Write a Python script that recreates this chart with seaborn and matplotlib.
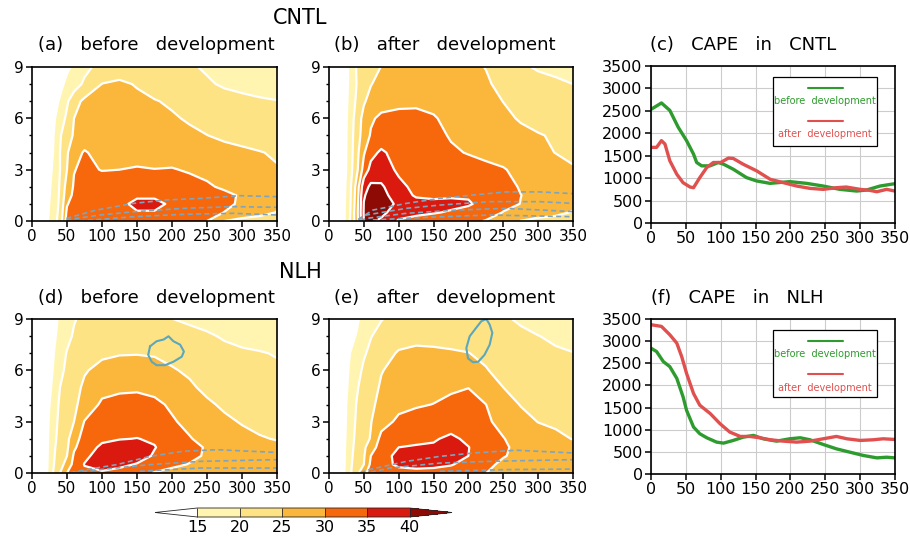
import numpy as np
import pandas as pd
import matplotlib
matplotlib.use("Agg")
import matplotlib.pyplot as plt
import seaborn as sns
from matplotlib.colors import ListedColormap, BoundaryNorm
from matplotlib.cm import ScalarMappable
from matplotlib.patches import Rectangle
from matplotlib.ticker import MultipleLocator

# ---------------- data ----------------
X_KM = [0, 20, 30, 40, 50, 60, 75, 100, 125, 150, 175, 200, 225, 250, 275, 300, 325, 350]
Z_KM = [0, 0.5, 1, 1.5, 2, 3, 4, 5, 6, 7, 8, 9]
LEVELS = [15, 20, 25, 30, 35, 40]

FIELD_A = [
    [8, 14, 17.5, 22, 32, 32.5, 33, 33, 33.5, 33.5, 33.5, 33, 32, 30, 25, 23.5, 23, 22.5],
    [8, 13.8, 17, 21.5, 31, 32.5, 33, 33.5, 34, 34.8, 34.8, 34, 33, 31.8, 29.9, 28, 26.5, 24.8],
    [8.5, 13.5, 16.8, 21, 29.6, 32, 33, 33.5, 34.2, 35.8, 35.8, 34.5, 33.5, 32.5, 31, 29.3, 27.5, 26],
    [8.5, 13.2, 16.5, 20.7, 28, 31, 32.5, 33, 33.5, 34.5, 34.5, 34, 33, 32, 31, 29.5, 28, 27],
    [8.5, 13, 16.2, 20.5, 27, 30.5, 32, 32.5, 32.5, 33, 33, 32.5, 31.8, 30.6, 29.3, 28.5, 27.5, 26.8],
    [9, 12.8, 15.5, 20, 25, 29.8, 31, 29.8, 30, 30.4, 30.1, 30.3, 29.5, 28.8, 28, 27.5, 26.5, 25.3],
    [9, 12.5, 15, 20, 24.5, 28, 30.5, 28, 28, 28.2, 28, 27.8, 27.3, 26.8, 26.2, 25.8, 25.2, 24.5],
    [9, 12.3, 14.6, 19.5, 23, 25.5, 27, 27.5, 27.5, 27.3, 27, 26.3, 25.7, 25.05, 24.3, 23.6, 23, 22.4],
    [9, 12, 14, 17.5, 21, 25, 26.5, 27, 26.8, 26.3, 25.8, 25.4, 24.6, 23.7, 22.8, 22, 21.3, 20.6],
    [9, 11.5, 13.3, 15.5, 19.3, 23.2, 26, 26.2, 26, 25.6, 25.2, 24.5, 23.3, 22.3, 21.5, 20.9, 20.4, 20.1],
    [8.5, 10.5, 12, 14, 16, 17.5, 21, 25.1, 25.5, 24.8, 23.5, 22.5, 21.5, 20.5, 19.5, 19, 18.7, 18.5],
    [8, 10, 11, 12.5, 14.3, 15.8, 18.5, 22, 23.5, 23.3, 22.5, 21.5, 20.5, 19.5, 18.8, 18.3, 18, 17.8],
]
FIELD_B = [
    [5, 13.5, 20, 28, 40, 41, 39, 34.5, 33.5, 33, 32.5, 31.5, 29.7, 27.5, 24.9, 23.5, 23, 22.5],
    [5, 13.5, 19.5, 28.5, 40.5, 43, 41.5, 37, 36, 35.3, 34.6, 33.5, 32.5, 29.8, 28.5, 27.5, 26.3, 24.6],
    [5, 13.3, 19.2, 28, 40.2, 43, 42.5, 39, 36.5, 36, 36, 35.5, 33.5, 31.5, 29.9, 28.8, 27.5, 26.5],
    [5, 13.2, 19, 27.5, 39.5, 42, 42, 37, 34.5, 34.2, 34.5, 34.5, 33, 31.5, 30.05, 29, 28, 27.2],
    [5, 13, 18.8, 27, 38, 41, 40.8, 36, 34, 33.8, 33.8, 33.5, 32.5, 31.3, 29.7, 28.8, 27.8, 27],
    [5, 12.5, 18, 24, 32, 36.5, 37, 34.3, 33.5, 33.5, 33, 31.5, 31, 30.3, 28.8, 28, 27, 25.3],
    [5, 12.5, 17.7, 23.5, 29.5, 33.5, 35.8, 33, 32.5, 32, 30.5, 29.8, 29, 28.3, 27.5, 26.2, 24.9, 24.3],
    [5, 12.5, 17.5, 23, 27, 30.5, 32, 32, 31.5, 31, 29.7, 28.5, 27.5, 26.5, 25.8, 25.3, 24.5, 24],
    [5, 12.5, 17, 22.5, 26.5, 29.3, 31, 31.2, 31, 30.3, 29, 27.5, 26.5, 25.7, 24.7, 23.5, 22.8, 22.3],
    [5, 12.3, 16.5, 21, 24.5, 26.5, 28, 29, 29.3, 29, 28, 27, 26, 24.95, 23.5, 22.3, 21.5, 21],
    [5, 12, 16.2, 20.2, 23, 24.8, 26.5, 27.5, 28, 28, 27.5, 26.5, 25.5, 24, 22.5, 21.5, 20.7, 20],
    [5, 12, 16, 20.5, 22.5, 23.5, 25.1, 26.5, 27, 27, 26.5, 25.8, 24.9, 23, 20.7, 19.5, 19, 18.8],
]
FIELD_D = [
    [8, 14, 20, 25, 30, 32, 34, 34.5, 33.5, 32, 29.7, 28.5, 28, 27.5, 27, 26.5, 26, 25.5],
    [8, 13.8, 19.5, 23, 27, 31.5, 35.2, 36.5, 36, 34.7, 32.5, 31, 29.8, 28.5, 27.8, 27, 26.5, 26],
    [8, 13.7, 19.2, 22.5, 25, 30.7, 34, 37, 37.5, 37, 34.5, 32.5, 31, 29.5, 28.5, 27.5, 27, 26.5],
    [8, 13.6, 19, 22, 24.2, 29.3, 32.5, 36, 37, 37, 35.2, 33, 31.3, 29.6, 28.3, 27.2, 26.3, 25.8],
    [8, 13.5, 18.5, 21.7, 23.8, 28, 32, 34, 34.8, 35.1, 34.5, 32, 30.3, 28.5, 27.2, 26.2, 25.3, 24.8],
    [8, 13.3, 18, 21.2, 23, 25, 30.2, 32.3, 33, 33, 32, 30.5, 28.8, 27, 25.8, 24.7, 24, 23.5],
    [8, 12.5, 17.5, 20.7, 22.5, 24, 27, 30.8, 31.8, 32, 31, 29.3, 27.5, 25.7, 24.3, 23.3, 22.7, 22.2],
    [8, 12.3, 16, 20, 22, 23.5, 25.8, 28.5, 29, 29.2, 28.7, 27.5, 25.7, 24, 22.8, 22, 21.5, 21.2],
    [8, 12, 15.2, 18.8, 21, 22.5, 24.6, 26.3, 27, 27, 26.5, 25.4, 24.3, 23, 22, 21.3, 20.8, 20.5],
    [8, 11.8, 14.6, 17.8, 20.3, 21.5, 23, 24.2, 24.7, 24.8, 24.6, 23.7, 22.7, 21.8, 21, 20.5, 20.2, 19.8],
    [8, 11.5, 14, 16.5, 18.8, 20.5, 21.8, 23, 23.3, 23.3, 23, 22.2, 21.3, 20.5, 19.6, 19, 18.7, 18.5],
    [8, 11.2, 13.5, 15.8, 17.8, 19.7, 21, 21.8, 21.8, 21.5, 20.8, 20.05, 19.3, 18.7, 18.3, 18, 17.8, 17.6],
]
FIELD_E = [
    [8, 14, 19.2, 23.5, 29, 31.5, 33, 34, 34.2, 34, 33, 32, 30.05, 28.5, 28, 27.5, 27, 26.5],
    [8, 13.8, 19, 22.5, 25, 31, 34, 35.5, 35.8, 35.7, 35.3, 33.5, 31.2, 29, 28.5, 28, 27.5, 27],
    [8, 13.6, 18.7, 22, 24.5, 30, 33.5, 36, 36.5, 36.5, 36.5, 35, 32.5, 30.3, 28.8, 28.3, 27.8, 27.3],
    [8, 13.5, 18.5, 21.5, 24, 28, 32, 35, 35.4, 35.5, 36, 35.1, 33, 30.8, 28.5, 27.8, 27.2, 26.7],
    [8, 13.3, 18.2, 21.2, 23.5, 25.3, 31.5, 33.5, 34, 34.6, 35.8, 34.2, 32.3, 30.2, 28, 27, 26.3, 24.8],
    [8, 13, 17.8, 20.7, 23, 24.8, 28, 31, 32, 32.5, 33, 32, 30.8, 28.5, 26.5, 24.9, 24, 23.5],
    [8, 12.8, 17.5, 20.3, 22.5, 24, 26.5, 28.7, 29.5, 30.1, 30.8, 31, 30.05, 27, 24.8, 23.5, 22.8, 22.3],
    [8, 12.5, 16.5, 19.5, 22, 23.5, 25.5, 27.2, 28, 28.5, 29.5, 29.95, 27.5, 25, 23.5, 22.5, 21.8, 21.3],
    [8, 12.2, 15.8, 18.5, 20.8, 22.5, 24.8, 26.3, 27, 27.3, 27.5, 27, 25.3, 23.5, 22.3, 21.5, 20.8, 20.4],
    [8, 12, 15, 17.5, 19.5, 21, 23.3, 25.4, 25.8, 25.6, 25.4, 25.1, 24, 22.5, 21.5, 20.8, 20.3, 20.05],
    [8, 11.5, 14, 15.3, 17.5, 19.8, 21.5, 23.3, 24, 24, 23.7, 23, 22, 21.2, 20.6, 20.05, 19.6, 19.3],
    [8, 11, 13, 14.5, 16.2, 17.8, 19.8, 21.5, 22.5, 22.8, 22.5, 21.8, 21, 20.4, 19.6, 19, 18.7, 18.5],
]

# dashed (second field) contour traces
DASH_A_X = [[49, 92, 145, 192, 240, 297, 350], [49, 97, 145, 216, 288, 350], [68, 145, 216, 288, 350]]
DASH_A_Z = [[0.15, 0.64, 1.03, 1.23, 1.32, 1.48, 1.42], [0.06, 0.35, 0.54, 0.74, 0.84, 0.8], [0.0, 0.25, 0.39, 0.45, 0.35]]
DASH_B_X = [[42, 63, 111, 159, 207, 254, 302, 350], [42, 53.5, 111, 159, 230, 302, 350],
            [45, 53.5, 111, 183, 254, 350], [63, 135, 230, 350]]
DASH_B_Z = [[0.1, 0.64, 1.03, 1.32, 1.52, 1.7, 1.7, 1.6], [0.05, 0.35, 0.74, 0.93, 1.13, 1.13, 1.03],
            [0.03, 0.15, 0.45, 0.64, 0.74, 0.55], [0.06, 0.21, 0.35, 0.25]]
DASH_D_X = [[55, 63.5, 121, 168.6, 216, 264, 350], [60, 97, 168.6, 240, 350], [154, 240, 350]]
DASH_D_Z = [[0.02, 0.1, 0.49, 0.97, 1.27, 1.36, 1.2], [0.02, 0.2, 0.49, 0.68, 0.78], [0.1, 0.29, 0.29]]
DASH_E_X = [[45, 58, 111, 159, 207, 269, 350], [60, 87, 159, 230, 350], [159, 254, 350]]
DASH_E_Z = [[0.02, 0.2, 0.68, 0.97, 1.17, 1.33, 1.17], [0.05, 0.29, 0.58, 0.68, 0.78], [0.1, 0.2, 0.23]]

# cyan closed contour (upper level)
CYAN_D_X = [168.6, 178, 188, 195, 202, 211.6, 217, 214, 202, 190, 178, 171, 166, 168.6]
CYAN_D_Z = [7.4, 7.7, 7.8, 7.99, 7.7, 7.5, 7.1, 6.8, 6.5, 6.3, 6.3, 6.5, 6.9, 7.4]
CYAN_E_X = [225.7, 230.5, 234.3, 230.5, 223, 214, 206.6, 199.4, 197, 201.8, 211, 218.5, 225.7]
CYAN_E_Z = [9.0, 8.67, 8.19, 7.5, 6.9, 6.5, 6.47, 6.7, 7.3, 7.99, 8.48, 8.87, 9.0]

# CAPE curves
C_BEFORE_X = [0, 15, 27, 39, 51, 61, 65.5, 72.7, 84.6, 96.6, 104, 118, 137, 151.6, 170.7, 199, 223, 247, 271, 295, 309, 328.5, 350]
C_BEFORE_Y = [2533, 2676, 2510, 2136, 1836, 1536, 1349, 1274, 1274, 1349, 1311, 1199, 1012, 937, 884, 922, 884, 824, 750, 712, 735, 824, 877]
C_AFTER_X = [0, 8, 15, 20, 27, 37, 46, 56, 61, 70, 80, 89.4, 100, 111, 118, 132, 151.6, 171, 190, 209, 228, 247, 266, 280, 300, 314, 324, 338, 350]
C_AFTER_Y = [1686, 1686, 1836, 1761, 1387, 1087, 899, 802, 787, 1012, 1237, 1349, 1349, 1447, 1439, 1312, 1162, 974, 899, 824, 772, 750, 787, 802, 750, 727, 697, 750, 712]
N_BEFORE_X = [0, 8, 17.7, 27, 37, 46, 51, 61, 70, 80, 94, 104, 118, 132.5, 147, 161, 180, 199, 214, 228, 247, 266, 285.5, 305, 324, 338, 350]
N_BEFORE_Y = [2841, 2765, 2538, 2424, 2159, 1742, 1439, 1061, 909, 818, 720, 697, 758, 833, 871, 795, 742, 795, 818, 773, 667, 568, 492, 417, 364, 379, 364]
N_AFTER_X = [0, 15, 27, 37, 44, 51, 61, 70, 85, 99, 113, 128, 142, 156, 171, 190, 209, 228, 247, 266, 281, 300, 319, 333, 350]
N_AFTER_Y = [3371, 3333, 3144, 2955, 2652, 2273, 1818, 1553, 1364, 1136, 947, 848, 848, 818, 773, 742, 720, 742, 795, 848, 795, 758, 773, 795, 780]

FILL_COLORS = ["#FFF5B0", "#FEE385", "#FAB73C", "#F7680D", "#DA1A0F"]
UNDER_COLOR = "#FFFFFF"
OVER_COLOR = "#8E0B05"
GREEN = "#2E9B2E"
RED = "#E0504F"
DASH_COLOR = "#7FA4BE"
CYAN = "#5AA7BE"

# ---------------- style ----------------
sns.set_style("ticks")
plt.rcParams["font.family"] = ["DejaVu Sans"]
plt.rcParams["text.color"] = "black"
plt.rcParams["xtick.color"] = "black"
plt.rcParams["ytick.color"] = "black"
plt.rcParams["axes.labelcolor"] = "black"

W, H = 910, 536
fig = plt.figure(figsize=(W / 100, H / 100), dpi=100)


def px_axes(l, r, t, b):
    return fig.add_axes([l / W, 1 - b / H, (r - l) / W, (b - t) / H])


def ftext(x, y, s, size, **kw):
    fig.text(x / W, 1 - y / H, s, fontsize=size, ha="center", va="center", color="black", **kw)


cmap = ListedColormap(FILL_COLORS)
cmap.set_under(UNDER_COLOR)
cmap.set_over(OVER_COLOR)
norm = BoundaryNorm(LEVELS, cmap.N)


def style_frame(ax, size):
    ax.tick_params(which="major", direction="out", length=4, width=1.1, labelsize=size, pad=2,
                   colors="black")
    for s in ax.spines.values():
        s.set_visible(True)
        s.set_linewidth(1.2)
        s.set_color("black")
    ax.set_xlabel("")
    ax.set_ylabel("")


def contour_panel(ax, field, dx, dz, cyan=None):
    f = np.array(field, dtype=float)
    ax.contourf(X_KM, Z_KM, f, levels=LEVELS, cmap=cmap, norm=norm, extend="both")
    ax.contour(X_KM, Z_KM, f, levels=LEVELS, colors="white", linewidths=1.6)
    for xs, zs in zip(dx, dz):
        ax.plot(xs, zs, color=DASH_COLOR, lw=1.2, ls=(0, (3, 2)))
    if cyan is not None:
        ax.plot(cyan[0], cyan[1], color=CYAN, lw=1.5, clip_on=True)
    ax.set_xlim(0, 350)
    ax.set_ylim(0, 9)
    ax.set_xticks(range(0, 351, 50))
    ax.set_yticks([0, 3, 6, 9])
    ax.yaxis.set_minor_locator(MultipleLocator(1))
    style_frame(ax, 11)
    ax.tick_params(which="minor", axis="y", direction="out", length=2.5, width=1, colors="black")


def cape_panel(ax, bx, by, axx, ay):
    ax.grid(True, color="#CCCCCC", lw=0.8)
    ax.set_axisbelow(True)
    df = pd.concat([
        pd.DataFrame({"x": bx, "cape": by, "stage": "before development"}),
        pd.DataFrame({"x": axx, "cape": ay, "stage": "after development"}),
    ])
    sns.lineplot(data=df, x="x", y="cape", hue="stage", sort=False, ax=ax,
                 palette={"before development": GREEN, "after development": RED},
                 lw=2.4, legend=False)
    ax.set_xlim(0, 350)
    ax.set_ylim(0, 3500)
    ax.set_xticks(range(0, 351, 50))
    ax.set_yticks(range(0, 3501, 500))
    style_frame(ax, 11.5)


def cape_legend(ax, top, bottom, yl1, yt1, yl2, yt2):
    ax.add_patch(Rectangle((0.5, bottom), 0.426, top - bottom, transform=ax.transAxes,
                           facecolor="white", edgecolor="black", lw=0.9, zorder=5))
    ax.plot([0.643, 0.787], [yl1, yl1], transform=ax.transAxes, color=GREEN, lw=1.5, zorder=6)
    ax.text(0.713, yt1, "before  development", transform=ax.transAxes, color=GREEN,
            fontsize=7, ha="center", va="center", zorder=6)
    ax.plot([0.643, 0.787], [yl2, yl2], transform=ax.transAxes, color=RED, lw=1.5, zorder=6)
    ax.text(0.713, yt2, "after  development", transform=ax.transAxes, color=RED,
            fontsize=7, ha="center", va="center", zorder=6)


ax_a = px_axes(32, 277, 67, 221)
ax_b = px_axes(329, 573, 67, 221)
ax_c = px_axes(651, 895, 66, 223)
ax_d = px_axes(32, 277, 319, 473)
ax_e = px_axes(329, 573, 319, 473)
ax_f = px_axes(651, 895, 319, 474)

contour_panel(ax_a, FIELD_A, DASH_A_X, DASH_A_Z)
contour_panel(ax_b, FIELD_B, DASH_B_X, DASH_B_Z)
contour_panel(ax_d, FIELD_D, DASH_D_X, DASH_D_Z, (CYAN_D_X, CYAN_D_Z))
contour_panel(ax_e, FIELD_E, DASH_E_X, DASH_E_Z, (CYAN_E_X, CYAN_E_Z))

cape_panel(ax_c, C_BEFORE_X, C_BEFORE_Y, C_AFTER_X, C_AFTER_Y)
cape_panel(ax_f, N_BEFORE_X, N_BEFORE_Y, N_AFTER_X, N_AFTER_Y)
cape_legend(ax_c, 0.93, 0.49, 0.86, 0.777, 0.65, 0.567)
cape_legend(ax_f, 0.929, 0.497, 0.858, 0.774, 0.645, 0.555)

# titles
ftext(300, 18, "CNTL", 15)
ftext(300, 272, "NLH", 15)
ftext(156, 45, "(a)   before   development", 13)
ftext(445, 45, "(b)   after   development", 13)
ftext(743, 45, "(c)   CAPE   in   CNTL", 13)
ftext(156, 298, "(d)   before   development", 13)
ftext(445, 298, "(e)   after   development", 13)
ftext(737, 298, "(f)   CAPE   in   NLH", 13)

# colorbar (axes spans the end triangles too)
cax = px_axes(155, 452, 508, 517)
cb = fig.colorbar(ScalarMappable(norm=norm, cmap=cmap), cax=cax, orientation="horizontal",
                  extend="both", extendfrac=0.2, drawedges=True, ticks=LEVELS)
cb.outline.set_linewidth(0.6)
cb.dividers.set_linewidth(0.6)
cax.tick_params(length=0, labelsize=11.5, pad=2, colors="black")

fig.savefig("out.png", dpi=100)
